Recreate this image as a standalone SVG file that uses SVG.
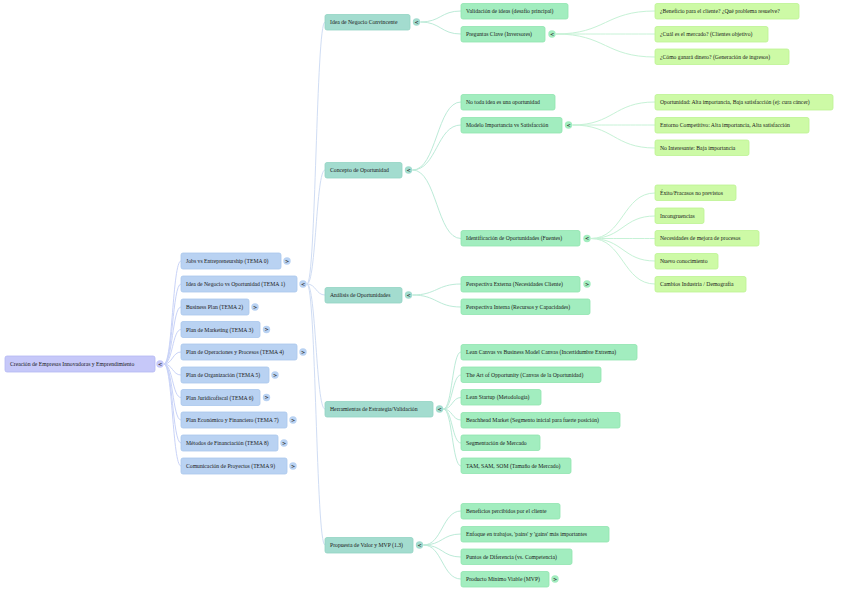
<svg xmlns="http://www.w3.org/2000/svg" width="848" height="591" viewBox="0 0 848 591">
<style>
text{font-family:"Liberation Serif","Times New Roman",serif;font-size:5.7px;fill:#1a1a1a}
.b0{fill:#c6c8f9;stroke:#b4b8f2;stroke-width:0.8}
.b1{fill:#b9d2f2;stroke:#a9c6ec;stroke-width:0.8}
.b2{fill:#a3dccf;stroke:#92d3c3;stroke-width:0.8}
.b3{fill:#a2edbf;stroke:#8fe5af;stroke-width:0.8}
.b4{fill:#cdfaa6;stroke:#bdf292;stroke-width:0.8}
.tg{stroke:none}
.tt{font-family:"DejaVu Sans",sans-serif;font-size:5px;font-weight:bold;text-anchor:middle;fill:#333}
.c0{fill:none;stroke:#c9d3f8;stroke-width:1}
.c1{fill:none;stroke:#d0ddf4;stroke-width:1}
.c2{fill:none;stroke:#bcebd8;stroke-width:1}
.c3{fill:none;stroke:#c6f2d6;stroke-width:1}
</style>
<g id="connectors">
<path class="c0" d="M164 364C172.5 364 172.5 261 181 261"/>
<path class="c0" d="M164 364C172.5 364 172.5 284 181 284"/>
<path class="c0" d="M164 364C172.5 364 172.5 307 181 307"/>
<path class="c0" d="M164 364C172.5 364 172.5 329.5 181 329.5"/>
<path class="c0" d="M164 364C172.5 364 172.5 352 181 352"/>
<path class="c0" d="M164 364C172.5 364 172.5 375 181 375"/>
<path class="c0" d="M164 364C172.5 364 172.5 397.5 181 397.5"/>
<path class="c0" d="M164 364C172.5 364 172.5 420 181 420"/>
<path class="c0" d="M164 364C172.5 364 172.5 443 181 443"/>
<path class="c0" d="M164 364C172.5 364 172.5 466 181 466"/>
<path class="c1" d="M307 284C316 284 316 22 325 22"/>
<path class="c1" d="M307 284C316 284 316 170 325 170"/>
<path class="c1" d="M307 284C316 284 316 295 325 295"/>
<path class="c1" d="M307 284C316 284 316 409 325 409"/>
<path class="c1" d="M307 284C316 284 316 545 325 545"/>
<path class="c2" d="M420.5 22C440.75 22 440.75 11 461 11"/>
<path class="c2" d="M420.5 22C440.75 22 440.75 34 461 34"/>
<path class="c3" d="M556 34C605.5 34 605.5 11 655 11"/>
<path class="c3" d="M556 34C605.5 34 605.5 34 655 34"/>
<path class="c3" d="M556 34C605.5 34 605.5 57 655 57"/>
<path class="c2" d="M412.5 170C436.75 170 436.75 102 461 102"/>
<path class="c2" d="M412.5 170C436.75 170 436.75 125 461 125"/>
<path class="c2" d="M412.5 170C436.75 170 436.75 238.5 461 238.5"/>
<path class="c3" d="M572.5 125C613.75 125 613.75 102 655 102"/>
<path class="c3" d="M572.5 125C613.75 125 613.75 125 655 125"/>
<path class="c3" d="M572.5 125C613.75 125 613.75 148 655 148"/>
<path class="c3" d="M591 238.5C623 238.5 623 193 655 193"/>
<path class="c3" d="M591 238.5C623 238.5 623 216 655 216"/>
<path class="c3" d="M591 238.5C623 238.5 623 238.5 655 238.5"/>
<path class="c3" d="M591 238.5C623 238.5 623 261 655 261"/>
<path class="c3" d="M591 238.5C623 238.5 623 284 655 284"/>
<path class="c2" d="M412.5 295C436.75 295 436.75 284 461 284"/>
<path class="c2" d="M412.5 295C436.75 295 436.75 307 461 307"/>
<path class="c2" d="M443.5 409C452.25 409 452.25 352 461 352"/>
<path class="c2" d="M443.5 409C452.25 409 452.25 375 461 375"/>
<path class="c2" d="M443.5 409C452.25 409 452.25 397.5 461 397.5"/>
<path class="c2" d="M443.5 409C452.25 409 452.25 420 461 420"/>
<path class="c2" d="M443.5 409C452.25 409 452.25 443 461 443"/>
<path class="c2" d="M443.5 409C452.25 409 452.25 466 461 466"/>
<path class="c2" d="M423.5 545C442.25 545 442.25 511 461 511"/>
<path class="c2" d="M423.5 545C442.25 545 442.25 534 461 534"/>
<path class="c2" d="M423.5 545C442.25 545 442.25 557 461 557"/>
<path class="c2" d="M423.5 545C442.25 545 442.25 579 461 579"/>
</g>
<g id="root"><rect class="b0" x="5" y="356" width="150" height="16" rx="2"/><text x="10" y="366">Creación de Empresas Innovadoras y Emprendimiento</text><circle class="b0 tg" cx="160" cy="364" r="3.7"/><text class="tt" x="160" y="365.8">&lt;</text></g>

<g id="t0"><rect class="b1" x="181" y="253" width="100" height="16" rx="2"/><text x="186" y="263">Jobs vs Entrepreneurship (TEMA 0)</text><circle class="b1 tg" cx="287" cy="261" r="3.7"/><text class="tt" x="287" y="262.8">&gt;</text></g>
<g id="t1"><rect class="b1" x="181" y="276" width="116" height="16" rx="2"/><text x="186" y="286">Idea de Negocio vs Oportunidad (TEMA 1)</text><circle class="b1 tg" cx="303" cy="284" r="3.7"/><text class="tt" x="303" y="285.8">&lt;</text></g>
<g id="t2"><rect class="b1" x="181" y="299" width="68" height="16" rx="2"/><text x="186" y="309">Business Plan (TEMA 2)</text><circle class="b1 tg" cx="255" cy="307" r="3.7"/><text class="tt" x="255" y="308.8">&gt;</text></g>
<g id="t3"><rect class="b1" x="181" y="321.5" width="79" height="16" rx="2"/><text x="186" y="331.5">Plan de Marketing (TEMA 3)</text><circle class="b1 tg" cx="266.5" cy="329.5" r="3.7"/><text class="tt" x="266.5" y="331.3">&gt;</text></g>
<g id="t4"><rect class="b1" x="181" y="344" width="116" height="16" rx="2"/><text x="186" y="354">Plan de Operaciones y Procesos (TEMA 4)</text><circle class="b1 tg" cx="303" cy="352" r="3.7"/><text class="tt" x="303" y="353.8">&gt;</text></g>
<g id="t5"><rect class="b1" x="181" y="367" width="88" height="16" rx="2"/><text x="186" y="377">Plan de Organización (TEMA 5)</text><circle class="b1 tg" cx="275" cy="375" r="3.7"/><text class="tt" x="275" y="376.8">&gt;</text></g>
<g id="t6"><rect class="b1" x="181" y="389.5" width="79" height="16" rx="2"/><text x="186" y="399.5">Plan Jurídicofiscal (TEMA 6)</text><circle class="b1 tg" cx="266.5" cy="397.5" r="3.7"/><text class="tt" x="266.5" y="399.3">&gt;</text></g>
<g id="t7"><rect class="b1" x="181" y="412" width="106" height="16" rx="2"/><text x="186" y="422">Plan Económico y Financiero (TEMA 7)</text><circle class="b1 tg" cx="293" cy="420" r="3.7"/><text class="tt" x="293" y="421.8">&gt;</text></g>
<g id="t8"><rect class="b1" x="181" y="435" width="97" height="16" rx="2"/><text x="186" y="445">Métodos de Financiación (TEMA 8)</text><circle class="b1 tg" cx="284" cy="443" r="3.7"/><text class="tt" x="284" y="444.8">&gt;</text></g>
<g id="t9"><rect class="b1" x="181" y="458" width="106" height="16" rx="2"/><text x="186" y="468">Comunicación de Proyectos (TEMA 9)</text><circle class="b1 tg" cx="293" cy="466" r="3.7"/><text class="tt" x="293" y="467.8">&gt;</text></g>

<g id="idea"><rect class="b2" x="325" y="14.5" width="85" height="15.5" rx="2"/><text x="330" y="24.2">Idea de Negocio Convincente</text><circle class="b2 tg" cx="416.5" cy="22" r="3.7"/><text class="tt" x="416.5" y="23.8">&lt;</text></g>
<g id="concepto"><rect class="b2" x="325" y="162.5" width="77" height="15.5" rx="2"/><text x="330" y="172.2">Concepto de Oportunidad</text><circle class="b2 tg" cx="408.5" cy="170" r="3.7"/><text class="tt" x="408.5" y="171.8">&lt;</text></g>
<g id="analisis"><rect class="b2" x="325" y="287.5" width="77" height="15.5" rx="2"/><text x="330" y="297.2">Análisis de Oportunidades</text><circle class="b2 tg" cx="408.5" cy="295" r="3.7"/><text class="tt" x="408.5" y="296.8">&lt;</text></g>
<g id="herramientas"><rect class="b2" x="325" y="401.5" width="108" height="15.5" rx="2"/><text x="330" y="411.2">Herramientas de Estrategia/Validación</text><circle class="b2 tg" cx="439.5" cy="409" r="3.7"/><text class="tt" x="439.5" y="410.8">&lt;</text></g>
<g id="propuesta"><rect class="b2" x="325" y="537.5" width="88" height="15.5" rx="2"/><text x="330" y="547.2">Propuesta de Valor y MVP (1.3)</text><circle class="b2 tg" cx="419.5" cy="545" r="3.7"/><text class="tt" x="419.5" y="546.8">&lt;</text></g>

<g id="validacion"><rect class="b3" x="461" y="3.5" width="107" height="15.5" rx="2"/><text x="466" y="13.2">Validación de ideas (desafío principal)</text></g>
<g id="preguntas"><rect class="b3" x="461" y="26.5" width="84" height="15.5" rx="2"/><text x="466" y="36.2">Preguntas Clave (Inversores)</text><circle class="b3 tg" cx="552" cy="34" r="3.7"/><text class="tt" x="552" y="35.8">&lt;</text></g>
<g id="notoda"><rect class="b3" x="461" y="94.5" width="94" height="15.5" rx="2"/><text x="466" y="104.2">No toda idea es una oportunidad</text></g>
<g id="modelo"><rect class="b3" x="461" y="117.5" width="101" height="15.5" rx="2"/><text x="466" y="127.2">Modelo Importancia vs Satisfacción</text><circle class="b3 tg" cx="568.5" cy="125" r="3.7"/><text class="tt" x="568.5" y="126.8">&lt;</text></g>
<g id="identificacion"><rect class="b3" x="461" y="230.5" width="119" height="15.5" rx="2"/><text x="466" y="240.2">Identificación de Oportunidades (Fuentes)</text><circle class="b3 tg" cx="587" cy="238.5" r="3.7"/><text class="tt" x="587" y="240.3">&lt;</text></g>
<g id="externa"><rect class="b3" x="461" y="276.5" width="119" height="15.5" rx="2"/><text x="466" y="286.2">Perspectiva Externa (Necesidades Cliente)</text><circle class="b3 tg" cx="587" cy="284" r="3.7"/><text class="tt" x="587" y="285.8">&gt;</text></g>
<g id="interna"><rect class="b3" x="461" y="299" width="129" height="15.5" rx="2"/><text x="466" y="308.7">Perspectiva Interna (Recursos y Capacidades)</text></g>
<g id="leancanvas"><rect class="b3" x="461" y="344.5" width="176" height="15.5" rx="2"/><text x="466" y="354.2">Lean Canvas vs Business Model Canvas (Incertidumbre Extrema)</text></g>
<g id="art"><rect class="b3" x="461" y="367" width="140" height="15.5" rx="2"/><text x="466" y="376.7">The Art of Opportunity (Canvas de la Oportunidad)</text></g>
<g id="leanstartup"><rect class="b3" x="461" y="389.5" width="80" height="15.5" rx="2"/><text x="466" y="399.2">Lean Startup (Metodología)</text></g>
<g id="beachhead"><rect class="b3" x="461" y="412.5" width="159" height="15.5" rx="2"/><text x="466" y="422.2">Beachhead Market (Segmento inicial para fuerte posición)</text></g>
<g id="segmentacion"><rect class="b3" x="461" y="435" width="79" height="15.5" rx="2"/><text x="466" y="444.7">Segmentación de Mercado</text></g>
<g id="tam"><rect class="b3" x="461" y="458" width="110" height="15.5" rx="2"/><text x="466" y="467.7">TAM, SAM, SOM (Tamaño de Mercado)</text></g>
<g id="beneficios"><rect class="b3" x="461" y="503.5" width="99" height="15.5" rx="2"/><text x="466" y="513.2">Beneficios percibidos por el cliente</text></g>
<g id="enfoque"><rect class="b3" x="461" y="526.5" width="148" height="15.5" rx="2"/><text x="466" y="536.2">Enfoque en trabajos, 'pains' y 'gains' más importantes</text></g>
<g id="puntos"><rect class="b3" x="461" y="549" width="111" height="15.5" rx="2"/><text x="466" y="558.7">Puntos de Diferencia (vs. Competencia)</text></g>
<g id="mvp"><rect class="b3" x="461" y="571.5" width="88" height="15.5" rx="2"/><text x="466" y="581.2">Producto Mínimo Viable (MVP)</text><circle class="b3 tg" cx="555" cy="579" r="3.7"/><text class="tt" x="555" y="580.8">&gt;</text></g>

<g id="q1"><rect class="b4" x="655" y="3.5" width="144" height="15.5" rx="2"/><text x="660" y="13.2">¿Beneficio para el cliente? ¿Qué problema resuelve?</text></g>
<g id="q2"><rect class="b4" x="655" y="26.5" width="113" height="15.5" rx="2"/><text x="660" y="36.2">¿Cuál es el mercado? (Clientes objetivo)</text></g>
<g id="q3"><rect class="b4" x="655" y="49" width="134" height="15.5" rx="2"/><text x="660" y="58.7">¿Cómo ganará dinero? (Generación de ingresos)</text></g>
<g id="m1"><rect class="b4" x="655" y="94.5" width="178" height="15.5" rx="2"/><text x="660" y="104.2">Oportunidad: Alta importancia, Baja satisfacción (ej: cura cáncer)</text></g>
<g id="m2"><rect class="b4" x="655" y="117.5" width="154" height="15.5" rx="2"/><text x="660" y="127.2">Entorno Competitivo: Alta importancia, Alta satisfacción</text></g>
<g id="m3"><rect class="b4" x="655" y="140" width="94" height="15.5" rx="2"/><text x="660" y="149.7">No Interesante: Baja importancia</text></g>
<g id="f1"><rect class="b4" x="655" y="185" width="81" height="15.5" rx="2"/><text x="660" y="194.7">Éxito/Fracasos no previstos</text></g>
<g id="f2"><rect class="b4" x="655" y="208" width="49" height="15.5" rx="2"/><text x="660" y="217.7">Incongruencias</text></g>
<g id="f3"><rect class="b4" x="655" y="230.5" width="104" height="15.5" rx="2"/><text x="660" y="240.2">Necesidades de mejora de procesos</text></g>
<g id="f4"><rect class="b4" x="655" y="253.5" width="63" height="15.5" rx="2"/><text x="660" y="263.2">Nuevo conocimiento</text></g>
<g id="f5"><rect class="b4" x="655" y="276.5" width="91" height="15.5" rx="2"/><text x="660" y="286.2">Cambios Industria / Demografía</text></g>
</svg>
